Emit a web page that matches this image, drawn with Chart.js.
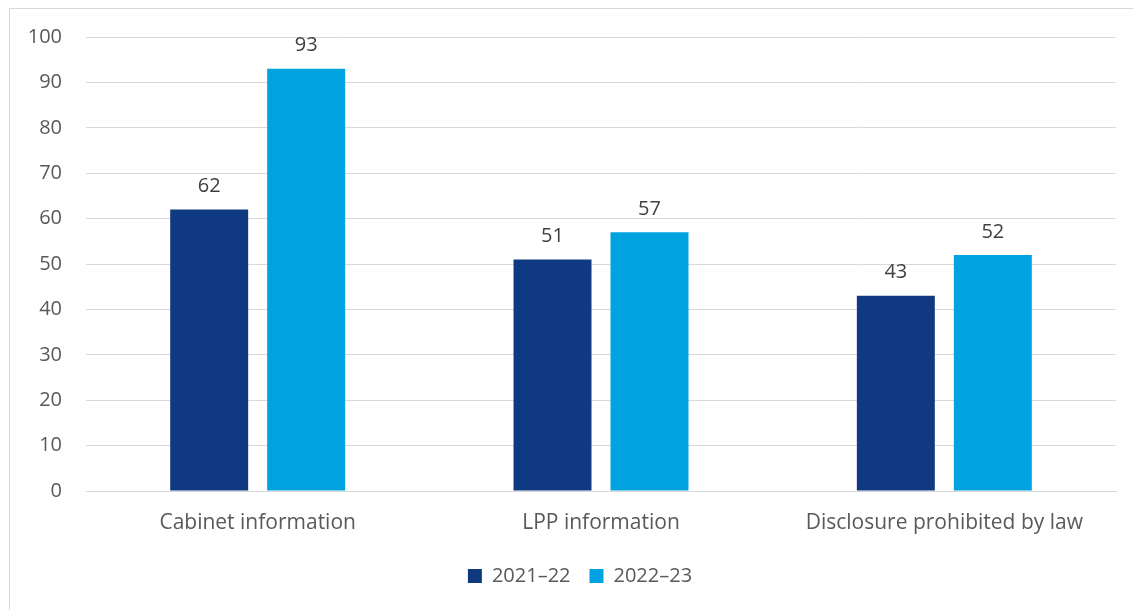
<!DOCTYPE html>
<html>
<head>
<meta charset="utf-8">
<script src="https://cdn.jsdelivr.net/npm/chart.js@4"></script>
<style>
  html, body { margin: 0; padding: 0; background: #fff; overflow: hidden; }
  #wrap { position: relative; width: 1133px; height: 610px; }
  #frame { position: absolute; left: 9px; top: 8px; width: 1300px; height: 800px;
           border: 1px solid #d9d9d9; box-sizing: border-box; pointer-events: none; }
  canvas { position: absolute; left: 0; top: 0; }
</style>
</head>
<body>
<div id="wrap">
  <div id="frame"></div>
  <canvas id="c" width="1133" height="610"></canvas>
</div>
<script>
const categories = ['Cabinet information', 'LPP information', 'Disclosure prohibited by law'];
const seriesNames = ['2021\u201322', '2022\u201323'];
const values2021 = [62, 51, 43];
const values2022 = [93, 57, 52];
const seriesColors = ['#0f3a82', '#00a3e0'];

const FONT = "'Open Sans', 'Liberation Sans', sans-serif";

// Value labels above each bar
const valueLabels = {
  id: 'valueLabels',
  afterDatasetsDraw(chart) {
    const ctx = chart.ctx;
    ctx.save();
    ctx.font = '20px ' + FONT;
    ctx.fillStyle = '#404040';
    ctx.textAlign = 'center';
    ctx.textBaseline = 'middle';
    chart.data.datasets.forEach((ds, i) => {
      chart.getDatasetMeta(i).data.forEach((bar, j) => {
        ctx.fillText(String(ds.data[j]), bar.x, bar.y - 23);
      });
    });
    ctx.restore();
  }
};

// Nudge the legend a little to the right of the canvas centre
const legendOffset = {
  id: 'legendOffset',
  afterLayout(chart) {
    const lg = chart.legend;
    if (lg) { lg.left += 22; lg.right += 22; }
  }
};

new Chart(document.getElementById('c'), {
  type: 'bar',
  data: {
    labels: categories,
    datasets: [
      { label: seriesNames[0], data: values2021, backgroundColor: seriesColors[0] },
      { label: seriesNames[1], data: values2022, backgroundColor: seriesColors[1] }
    ]
  },
  options: {
    responsive: false,
    animation: false,
    devicePixelRatio: 1,
    layout: { padding: { left: 0, right: 17, top: 37, bottom: 14 } },
    datasets: { bar: { categoryPercentage: 0.565, barPercentage: 0.804 } },
    scales: {
      x: {
        grid: { display: false, drawTicks: false },
        border: { color: '#d9d9d9', width: 1 },
        ticks: { color: '#595959', font: { family: FONT, size: 21 }, padding: 19 },
        afterFit(axis) { axis.height = 56; }
      },
      y: {
        min: 0, max: 100,
        grid: { color: '#d9d9d9', lineWidth: 1, drawTicks: false },
        border: { display: false },
        ticks: { stepSize: 10, color: '#595959', font: { family: FONT, size: 20 }, padding: 24 },
        afterFit(axis) { axis.width = 86; }
      }
    },
    plugins: {
      legend: {
        position: 'bottom',
        labels: {
          color: '#595959',
          font: { family: FONT, size: 20 },
          boxWidth: 14, boxHeight: 14,
          padding: 19
        }
      },
      tooltip: { enabled: false }
    }
  },
  plugins: [valueLabels, legendOffset]
});
</script>
</body>
</html>
